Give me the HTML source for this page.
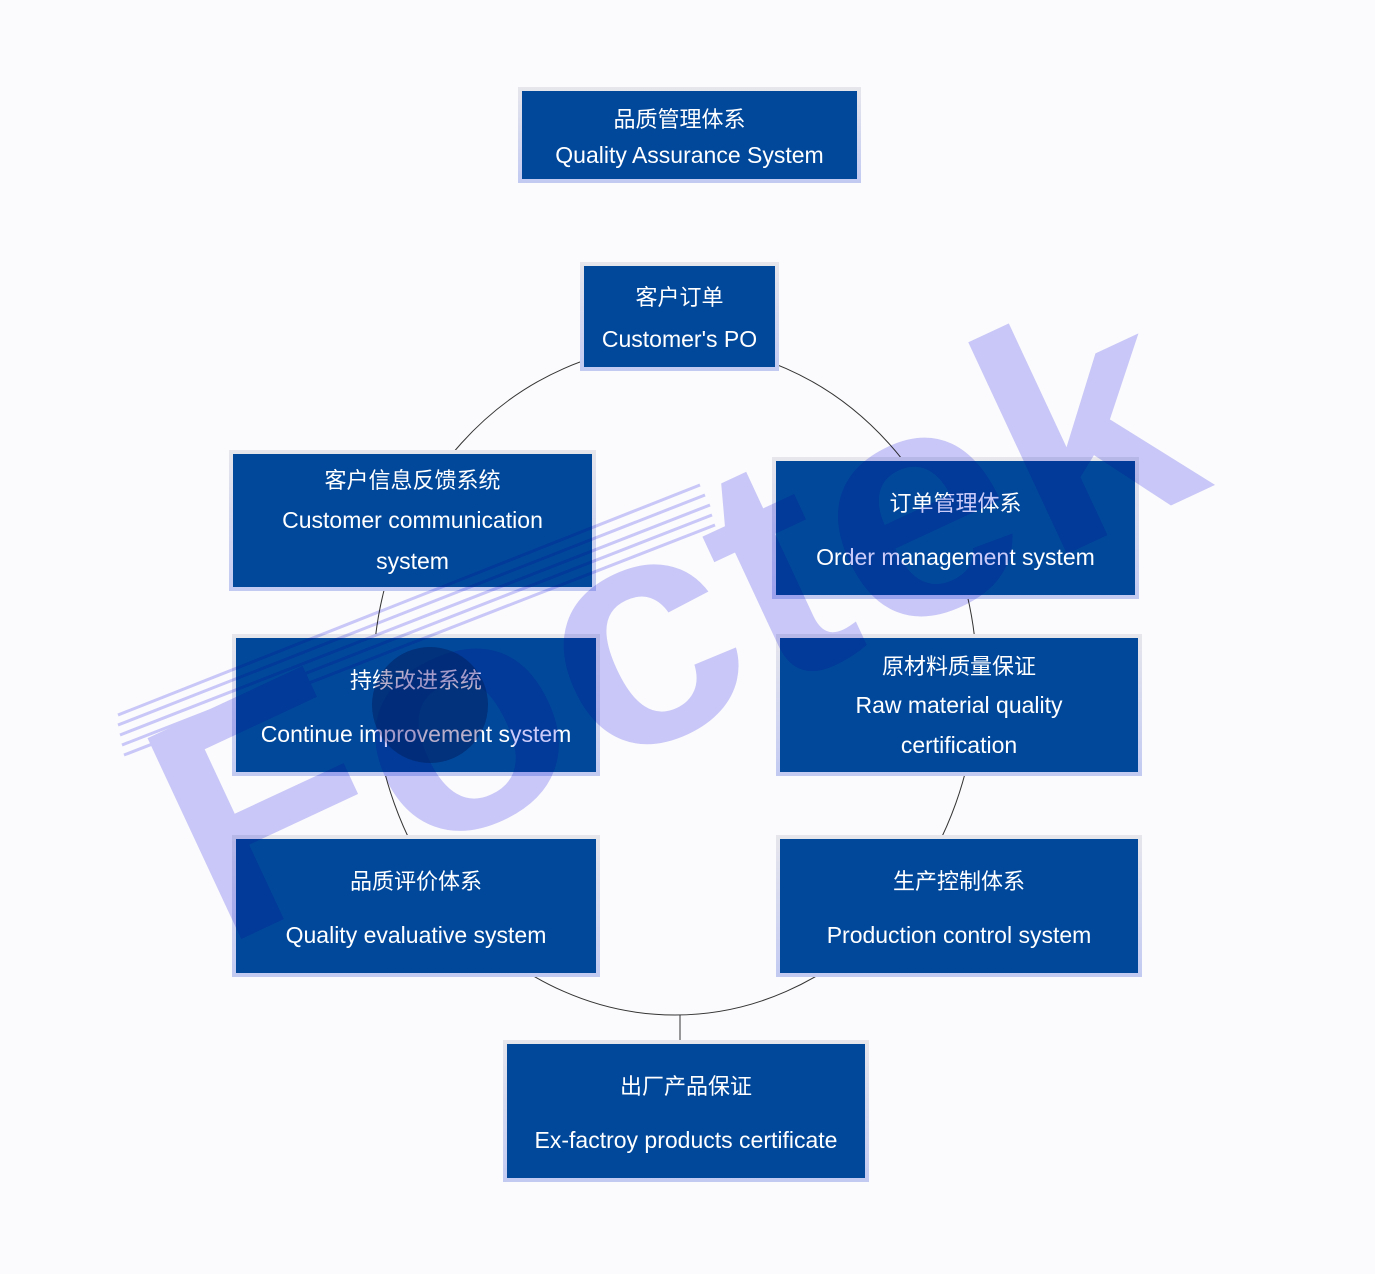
<!DOCTYPE html>
<html><head><meta charset="utf-8"><style>
html,body{margin:0;padding:0}
body{width:1375px;height:1274px;background:#fbfafc;position:relative;overflow:hidden;font-family:"Liberation Sans","Noto Sans CJK SC",sans-serif;}
.b{position:absolute;box-sizing:border-box;padding:4px;background:linear-gradient(#e6e6ec,#c2caf2);}
.b .i{width:100%;height:100%;background:#01489b;color:#fff;display:flex;flex-direction:column;justify-content:center;align-items:center;text-align:center;box-sizing:border-box;}
.cn{font-family:"Noto Sans CJK SC",sans-serif;font-size:22px;}
.en{font-size:23px;}
svg{position:absolute;left:0;top:0}
</style></head><body>
<svg width="1375" height="1274">
<ellipse cx="675" cy="680" rx="302" ry="335" fill="none" stroke="#333" stroke-width="1"/>
<line x1="680" y1="1015" x2="680" y2="1042" stroke="#333"/>
</svg>

<div class="b" style="left:518px;top:87px;width:343px;height:96px"><div class="i"><div class="cn" style="margin-bottom:8px;margin-right:20px">品质管理体系</div><div class="en">Quality Assurance System</div></div></div>
<div class="b" style="left:580px;top:262px;width:199px;height:109px"><div class="i"><div class="cn" style="margin-bottom:14px">客户订单</div><div class="en">Customer's PO</div></div></div>
<div class="b" style="left:229px;top:450px;width:367px;height:141px"><div class="i" style="line-height:41px"><div class="cn">客户信息反馈系统</div><div class="en">Customer communication<br>system</div></div></div>
<div class="b" style="left:772px;top:457px;width:367px;height:142px"><div class="i"><div class="cn" style="margin-bottom:26px">订单管理体系</div><div class="en">Order management system</div></div></div>
<div class="b" style="left:232px;top:634px;width:368px;height:142px"><div class="i"><div class="cn" style="margin-bottom:26px">持续改进系统</div><div class="en">Continue improvement system</div></div></div>
<div class="b" style="left:776px;top:634px;width:366px;height:142px"><div class="i" style="line-height:40px"><div class="cn">原材料质量保证</div><div class="en">Raw material quality<br>certification</div></div></div>
<div class="b" style="left:232px;top:835px;width:368px;height:142px"><div class="i"><div class="cn" style="margin-bottom:26px">品质评价体系</div><div class="en">Quality evaluative system</div></div></div>
<div class="b" style="left:776px;top:835px;width:366px;height:142px"><div class="i"><div class="cn" style="margin-bottom:26px">生产控制体系</div><div class="en">Production control system</div></div></div>
<div class="b" style="left:503px;top:1040px;width:366px;height:142px"><div class="i"><div class="cn" style="margin-bottom:26px">出厂产品保证</div><div class="en">Ex-factroy products certificate</div></div></div>

<svg width="1375" height="1274" style="mix-blend-mode:multiply">
<g transform="translate(220,950) rotate(-25) scale(1.05,1)">
<text x="0" y="0" font-family="Liberation Sans" font-weight="bold" font-size="325" fill="#cbcbfa" stroke="#ffffff" stroke-width="2">Foctek</text>
</g>
<g stroke="#cbcbfa" stroke-width="3">
<line x1="118" y1="715" x2="700" y2="485"/>
<line x1="118" y1="725" x2="705" y2="495"/>
<line x1="120" y1="735" x2="710" y2="505"/>
<line x1="122" y1="745" x2="712" y2="515"/>
<line x1="124" y1="755" x2="715" y2="525"/>
</g>
<circle cx="430" cy="705" r="58" fill="#8a7aa8" opacity="0.6"/>
</svg>
</body></html>
